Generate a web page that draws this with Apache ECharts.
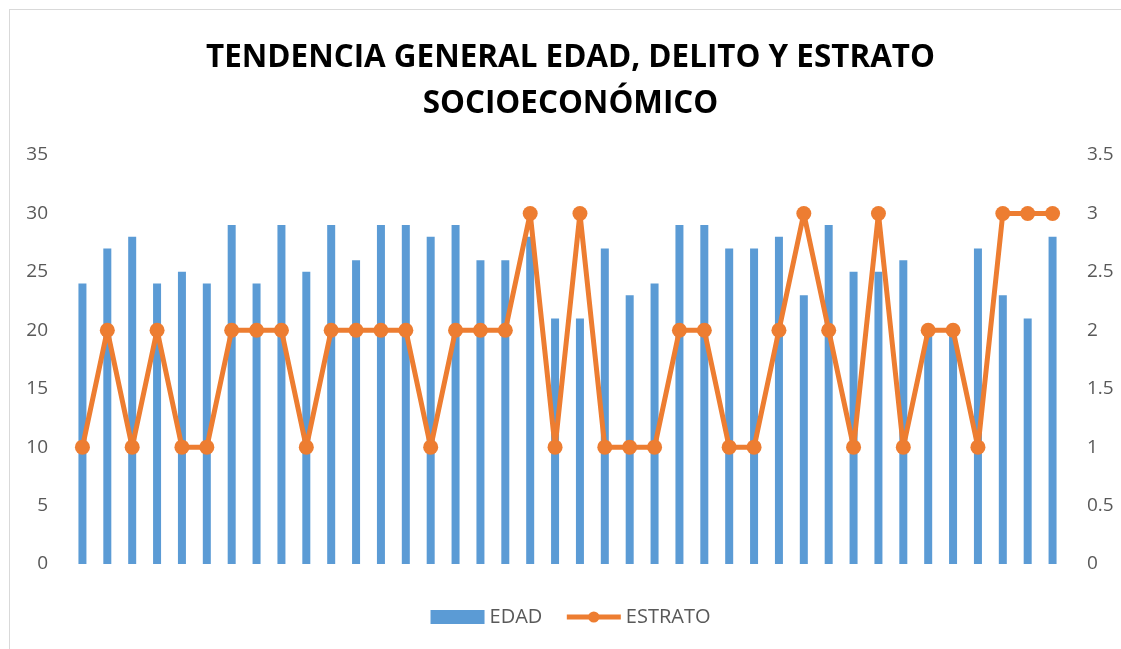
<!DOCTYPE html>
<html>
<head>
<meta charset="utf-8">
<script src="https://cdn.jsdelivr.net/npm/echarts@6/dist/echarts.min.js"></script>
<style>
html,body{margin:0;padding:0;background:#fff;overflow:hidden;width:1121px;height:649px;}
#frame{position:absolute;left:9px;top:9px;width:1130px;height:660px;border:1px solid #D9D9D9;box-sizing:border-box;}
#chart{position:absolute;left:10px;top:0;width:1121px;height:649px;}
</style>
</head>
<body>
<div id="frame"></div>
<div id="chart"></div>
<script>
const categories = Array.from({length: 40}, (_, i) => String(i + 1));
const edad = [24,27,28,24,25,24,29,24,29,25,29,26,29,29,28,29,26,26,28,21,21,27,23,24,29,29,27,27,28,23,29,25,25,26,20,20,27,23,21,28];
const estrato = [1,2,1,2,1,1,2,2,2,1,2,2,2,2,1,2,2,2,3,1,3,1,1,1,2,2,1,1,2,3,2,1,3,1,2,2,1,3,3,3];
const titleText = 'TENDENCIA GENERAL EDAD, DELITO Y ESTRATO\nSOCIOECONÓMICO';

const chart = echarts.init(document.getElementById('chart'), null, {renderer: 'canvas'});
const axisLabel = {color: '#595959', fontSize: 19, fontFamily: 'Open Sans'};
chart.setOption({
  animation: false,
  title: {
    text: titleText,
    left: 'center',
    top: 30,
    textStyle: {fontSize: 31.4, fontWeight: 'bold', color: '#000', fontFamily: 'Open Sans', lineHeight: 46}
  },
  legend: {
    bottom: 17,
    left: 'center',
    itemGap: 22,
    itemWidth: 54,
    itemHeight: 14,
    textStyle: {color: '#595959', fontSize: 20, fontFamily: 'Open Sans'},
    data: [
      {name: 'EDAD', icon: 'rect'},
      {name: 'ESTRATO', itemStyle: {color: '#ED7D31'}, lineStyle: {width: 5, color: '#ED7D31'}}
    ]
  },
  grid: {left: 60, right: 66, top: 155, bottom: 85},
  xAxis: {
    type: 'category',
    data: categories,
    axisLine: {show: false},
    axisTick: {show: false},
    axisLabel: {show: false}
  },
  yAxis: [
    {type: 'value', min: 0, max: 35, interval: 5, splitLine: {show: false},
     axisLabel: Object.assign({margin: 22}, axisLabel), axisLine: {show: false}, axisTick: {show: false}},
    {type: 'value', min: 0, max: 3.5, interval: 0.5, splitLine: {show: false},
     axisLabel: Object.assign({margin: 22}, axisLabel), axisLine: {show: false}, axisTick: {show: false}}
  ],
  series: [
    {name: 'EDAD', type: 'bar', data: edad, barWidth: 8, itemStyle: {color: '#5B9BD5'}},
    {name: 'ESTRATO', type: 'line', yAxisIndex: 1, data: estrato,
     symbol: 'circle', symbolSize: 15,
     lineStyle: {color: '#ED7D31', width: 5},
     itemStyle: {color: '#ED7D31'}}
  ]
});
</script>
</body>
</html>
